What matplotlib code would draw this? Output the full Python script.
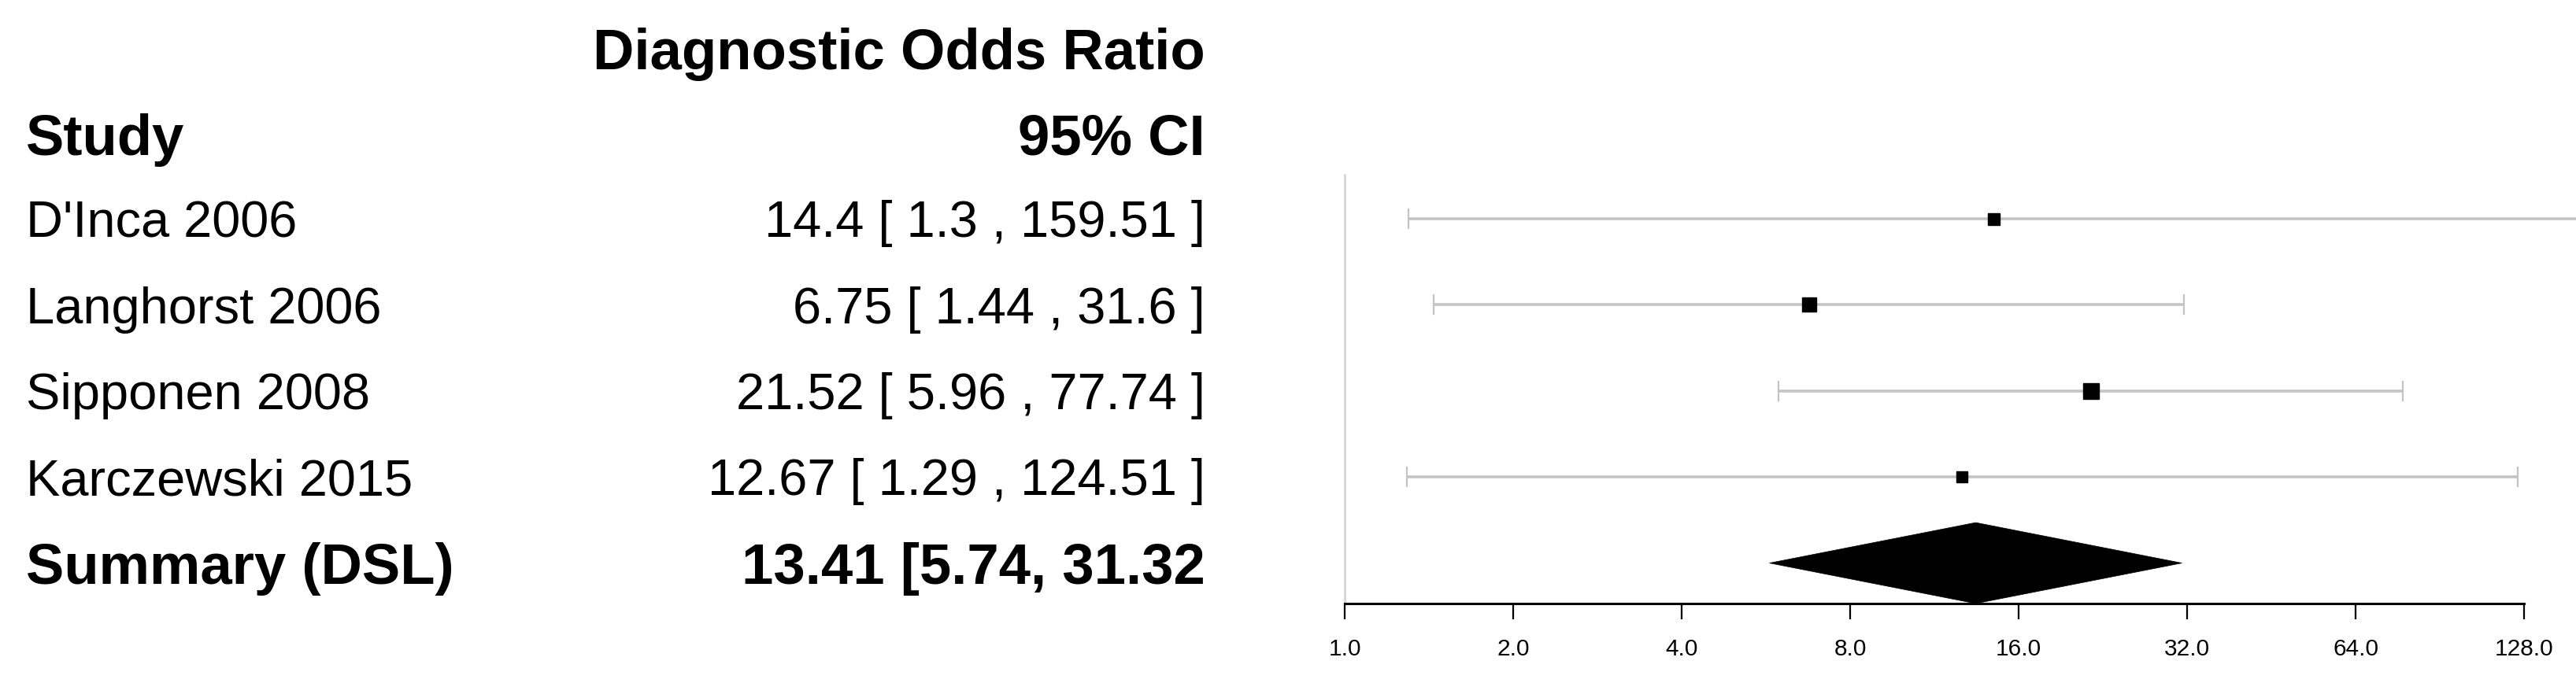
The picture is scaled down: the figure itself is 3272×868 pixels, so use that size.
import numpy as np
import matplotlib
matplotlib.use("Agg")
import matplotlib.pyplot as plt
from matplotlib.patches import Polygon
import matplotlib.transforms as mtransforms

plt.rcParams['font.family'] = ['Liberation Sans', 'DejaVu Sans']

# Daten (Forest-Plot, Diagnostic Odds Ratio)
studies = ["D'Inca 2006", "Langhorst 2006", "Sipponen 2008", "Karczewski 2015"]
dor = [14.4, 6.75, 21.52, 12.67]
ci_low = [1.3, 1.44, 5.96, 1.29]
ci_high = [159.51, 31.6, 77.74, 124.51]
ci_text = ["14.4 [ 1.3 , 159.51 ]", "6.75 [ 1.44 , 31.6 ]",
           "21.52 [ 5.96 , 77.74 ]", "12.67 [ 1.29 , 124.51 ]"]
box_pt = [10.8, 13.3, 14.8, 10.4]   # Gewichte -> Kästchengröße

summary_label = "Summary (DSL)"
summary_est = 13.41
summary_low = 5.74
summary_high = 31.32
summary_text = "13.41 [5.74, 31.32"

ticks = [1, 2, 4, 8, 16, 32, 64, 128]
tick_labels = ["1.0", "2.0", "4.0", "8.0", "16.0", "32.0", "64.0", "128.0"]

W, H = 3272, 868
fig = plt.figure(figsize=(W / 100, H / 100), dpi=100)
ax = fig.add_axes([1708 / W, 101 / H, 1 - 1708 / W, 545 / H])

ax.set_xscale('log', base=2)
ax.set_xlim(1, 2 ** 7.308)
ax.set_ylim(0.53, 5.51)

rows = np.arange(len(studies), 0, -1) + 1   # 5,4,3,2 ; summary at 1

# Konfidenzintervalle + Kästchen
for y, est, lo, hi, ms in zip(rows, dor, ci_low, ci_high, box_pt):
    ax.plot([lo, hi], [y, y], color='#c4c4c4', lw=2.6, solid_capstyle='butt', zorder=2)
    for e in (lo, hi):
        ax.plot([e, e], [y - 0.11, y + 0.11], color='#c4c4c4', lw=1.6, zorder=2)
    ax.plot(est, y, marker='s', ms=ms, color='black', mec='black', zorder=3)

# Summary-Raute
diamond = Polygon([[summary_low, 1], [summary_est, 1.47],
                   [summary_high, 1], [summary_est, 0.53]],
                  closed=True, facecolor='black', edgecolor='black', lw=0.5, zorder=3)
ax.add_patch(diamond)

# Achsen
for s in ['top', 'right']:
    ax.spines[s].set_visible(False)
ax.spines['left'].set_color('#d0d0d0')
ax.spines['left'].set_linewidth(1.8)
ax.spines['bottom'].set_linewidth(2.2)
ax.spines['bottom'].set_bounds(1, 128)
ax.set_yticks([])
ax.set_xticks(ticks)
ax.set_xticklabels(tick_labels)
ax.xaxis.set_minor_locator(matplotlib.ticker.NullLocator())
ax.tick_params(axis='x', length=14.4, width=1.6, pad=17, labelsize=21.5)

# Text-Spalten
tr = mtransforms.blended_transform_factory(fig.transFigure, ax.transData)
x_left = 33 / W
x_right = 1531 / W
for y, name, txt in zip(rows, studies, ci_text):
    ax.text(x_left, y - 0.213, name, transform=tr, fontsize=46.8, va='baseline', ha='left', clip_on=False)
    ax.text(x_right, y - 0.213, txt, transform=tr, fontsize=46.8, va='baseline', ha='right', clip_on=False)

ax.text(x_left, 1 - 0.238, summary_label, transform=tr, fontsize=52.2, fontweight='bold',
        va='baseline', ha='left', clip_on=False)
ax.text(x_right, 1 - 0.238, summary_text, transform=tr, fontsize=52.2, fontweight='bold',
        va='baseline', ha='right', clip_on=False)

# Kopfzeilen
ax.text(x_left, 5.74, "Study", transform=tr, fontsize=52.2, fontweight='bold',
        va='baseline', ha='left', clip_on=False)
ax.text(x_right, 5.74, "95% CI", transform=tr, fontsize=52.2, fontweight='bold',
        va='baseline', ha='right', clip_on=False)
ax.text(x_right, 6.737, "Diagnostic Odds Ratio", transform=tr, fontsize=52.2, fontweight='bold',
        va='baseline', ha='right', clip_on=False)

fig.savefig("out.png", dpi=100)
